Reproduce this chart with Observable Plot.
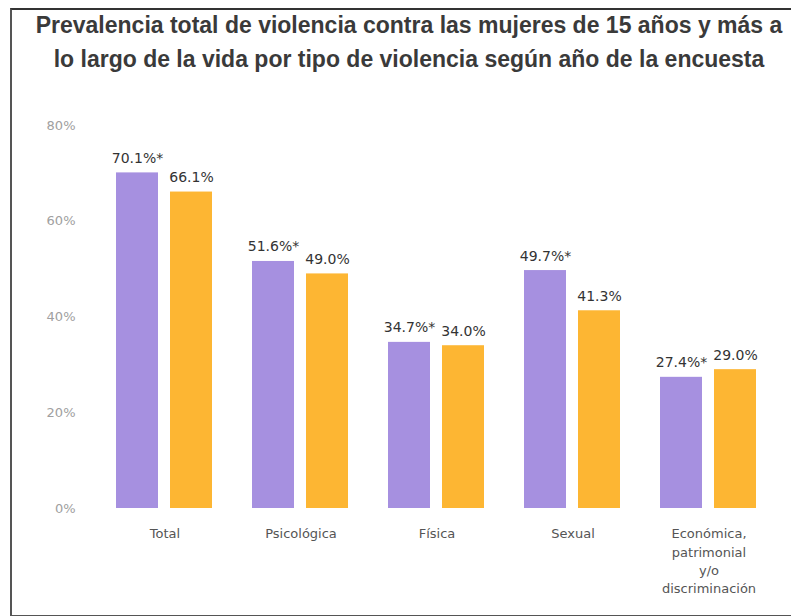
<!DOCTYPE html>
<html>
<head>
<meta charset="utf-8">
<script src="https://cdn.jsdelivr.net/npm/d3@7"></script>
<script src="https://cdn.jsdelivr.net/npm/@observablehq/plot@0.6"></script>
<style>
  html, body { margin: 0; padding: 0; background: #fff; }
  #wrap { position: relative; width: 791px; height: 616px; overflow: hidden; background: #fff; }
  #frame { position: absolute; left: 10px; top: 8px; width: 800px; height: 605px;
           border-top: 2px solid #333; border-left: 2px solid #555; border-bottom: 2px solid #555; }
  #title { position: absolute; left: 0; top: 8px; width: 818px; text-align: center;
           font-family: "Liberation Sans", Arial, sans-serif; font-weight: bold; font-size: 23px;
           line-height: 34px; color: #3a3a3a; }
  #chart { position: absolute; left: 0; top: 100px; }
</style>
</head>
<body>
<div id="wrap">
  <div id="frame"></div>
  <div id="title">Prevalencia total de violencia contra las mujeres de 15 años y más a<br>lo largo de la vida por tipo de violencia según año de la encuesta</div>
  <div id="chart"></div>
</div>
<script>
const categories = ["Total", "Psicológica", "Física", "Sexual", "Económica,\npatrimonial\ny/o\ndiscriminación"];
const years = ["2021", "2016"];
const values2021 = [70.1, 51.6, 34.7, 49.7, 27.4];
const values2016 = [66.1, 49.0, 34.0, 41.3, 29.0];
const labels2021 = ["70.1%*", "51.6%*", "34.7%*", "49.7%*", "27.4%*"];
const labels2016 = ["66.1%", "49.0%", "34.0%", "41.3%", "29.0%"];
const yTicks = [0, 20, 40, 60, 80];
const colors = ["#a690e0", "#fdb633"];

const data = [];
categories.forEach((c, i) => {
  data.push({cat: c, year: years[0], value: values2021[i], label: labels2021[i]});
  data.push({cat: c, year: years[1], value: values2016[i], label: labels2016[i]});
});

const chart = Plot.plot({
  width: 791,
  height: 516,
  marginTop: 25,
  marginBottom: 108,
  marginLeft: 88,
  marginRight: 6,
  style: {fontFamily: "'DejaVu Sans', sans-serif", background: "transparent"},
  fx: {domain: categories, paddingInner: 0.29, paddingOuter: 0.2, label: null},
  x: {domain: years, paddingInner: 0.22, paddingOuter: 0, axis: null},
  y: {domain: [0, 80], label: null},
  color: {domain: years, range: colors},
  marks: [
    Plot.axisY({ticks: yTicks, tickSize: 0, tickPadding: 13, tickFormat: d => d + "%",
                fontSize: 13, fill: "#a0a0a0", dx: -28, label: null}),
    Plot.axisFx({anchor: "bottom", tickSize: 0, tickPadding: 17, fontSize: 13, fill: "#555",
                 lineHeight: 1.4, label: null, lineAnchor: "top"}),
    Plot.barY(data, {fx: "cat", x: "year", y: "value", fill: "year"}),
    Plot.text(data, {fx: "cat", x: "year", y: "value", text: "label", dy: -10,
                     lineAnchor: "bottom", fontSize: 14, fill: "#333"})
  ]
});
document.getElementById("chart").appendChild(chart);
</script>
</body>
</html>
